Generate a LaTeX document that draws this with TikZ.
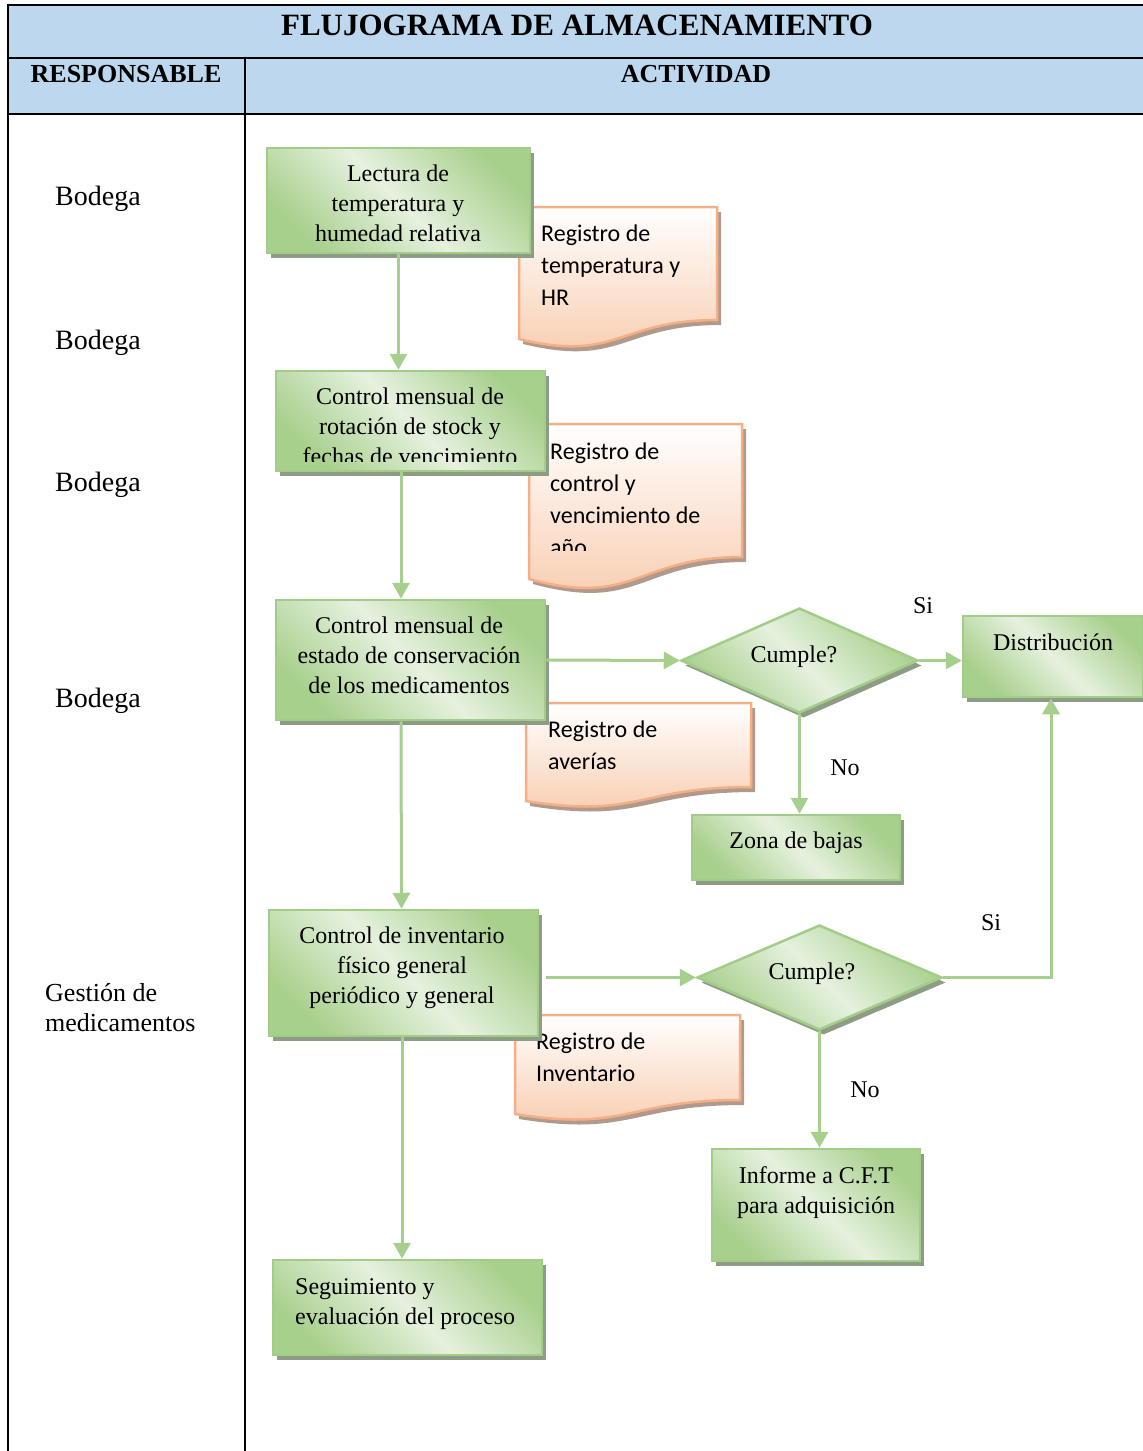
\documentclass[tikz,border=0pt]{standalone}
\usepackage{fontspec}
\setmainfont{Liberation Serif}
\newfontfamily\carl{Carlito}
\usetikzlibrary{shapes.geometric,arrows.meta,shadows}
\definecolor{hdr}{HTML}{BDD7EE}
\definecolor{gD}{HTML}{A8D08D}
\definecolor{gL}{HTML}{E6F1DF}
\definecolor{gB}{HTML}{A2CD88}
\definecolor{gS}{HTML}{8E9C86}
\definecolor{oB}{HTML}{F4B084}
\definecolor{oD}{HTML}{F8CBAD}
\definecolor{oS}{HTML}{B09A8E}
\definecolor{arrc}{HTML}{A6CE8C}
\begin{document}
\begin{tikzpicture}[x=1pt,y=-1pt,
  tbl/.style={line width=2pt,draw=black},
  proc/.style={draw=gB,line width=2.5pt,left color=gD,right color=gD,middle color=gL,shading angle=135,
    drop shadow={shadow xshift=4pt,shadow yshift=-5pt,fill=gS,opacity=1},inner sep=0pt},
  dec/.style={proc,shape=diamond,inner sep=0pt},
  docsh/.style={draw=oB,line width=2.5pt,top color=white,bottom color=oD,
    drop shadow={shadow xshift=4pt,shadow yshift=-5pt,fill=oS,opacity=1}},
  ptxt/.style={align=center,inner sep=0pt,font=\fontsize{24}{30}\selectfont},
  dtxt/.style={align=left,anchor=west,inner sep=0pt,font=\carl\fontsize{24}{32}\selectfont},
  rtxt/.style={anchor=west,inner sep=0pt,font=\fontsize{28}{30}\selectfont},
  lbl/.style={inner sep=0pt,font=\fontsize{24}{30}\selectfont},
  arr/.style={draw=arrc,line width=3pt,-{Triangle[width=17pt,length=16pt]}}
]
\useasboundingbox (0,0) rectangle (1143,1451);
% table
\fill[hdr] (8,5) rectangle (1143,114);
\draw[tbl] (8,1451) -- (8,5) -- (1143,5);
\draw[tbl] (8,58) -- (1143,58);
\draw[tbl] (8,114) -- (1143,114);
\draw[tbl] (245,58) -- (245,1451);
\node[inner sep=0pt,font=\bfseries\fontsize{31}{34}\selectfont] (title) at (577,25) {FLUJOGRAMA DE ALMACENAMIENTO};
\node[inner sep=0pt,font=\bfseries\fontsize{26}{30}\selectfont] (hresp) at (126,74) {RESPONSABLE};
\node[inner sep=0pt,font=\bfseries\fontsize{26}{30}\selectfont] (hact) at (696,74) {ACTIVIDAD};
% responsables
\node[rtxt] (r1) at (55,199) {Bodega};
\node[rtxt] (r2) at (55,343) {Bodega};
\node[rtxt] (r3) at (55,485) {Bodega};
\node[rtxt] (r4) at (55,701) {Bodega};
\node[rtxt,align=left,font=\fontsize{26}{30}\selectfont] (r5) at (45,1008) {Gestión de\\medicamentos};
% documents
\path[docsh] (519,207) -- (717,207) -- (717,320) .. controls (618,320) and (618,363) .. (519,339) -- cycle;
\node[dtxt] (doc1) at (541,265) {Registro de\\temperatura y\\HR};
\path[docsh] (529,424) -- (742,424) -- (742,557) .. controls (635.5,557) and (635.5,608) .. (529,579) -- cycle;
\begin{scope}
\clip (529,424) rectangle (742,550);
\node[dtxt] (doc2) at (550,499) {Registro de\\control y\\vencimiento de\\año};
\end{scope}
\path[docsh] (526,703) -- (751,703) -- (751,787) .. controls (638.5,787) and (638.5,819) .. (526,801) -- cycle;
\node[dtxt] (doc3) at (548,745) {Registro de\\averías};
\path[docsh] (515,1015) -- (740,1015) -- (740,1100) .. controls (627.5,1100) and (627.5,1132) .. (515,1114) -- cycle;
\node[dtxt] (doc4) at (536,1057) {Registro de\\Inventario};
% process boxes
\node[proc,minimum width=263pt,minimum height=105pt] (b1) at (398.5,200.5) {};
\node[ptxt] (t1) at (398,203) {Lectura de\\temperatura y\\humedad relativa};
\node[proc,minimum width=269pt,minimum height=100pt] (b2) at (410.5,421) {};
\begin{scope}
\clip (276,371) rectangle (545,461);
\node[ptxt] (t2) at (410,426) {Control mensual de\\rotación de stock y\\fechas de vencimiento};
\end{scope}
\node[proc,minimum width=269pt,minimum height=120pt] (b3) at (410.5,660) {};
\node[ptxt] (t3) at (409,655) {Control mensual de\\estado de conservación\\de los medicamentos};
\node[proc,minimum width=269pt,minimum height=126pt] (b4) at (403.5,973) {};
\node[ptxt] (t4) at (402,968) {Control de inventario\\físico general\\periódico y general};
\node[proc,minimum width=269pt,minimum height=95pt] (b5) at (407.5,1307.5) {};
\node[ptxt,align=left,anchor=west] (t5) at (295,1304) {Seguimiento y\\evaluación del proceso};
\node[proc,minimum width=180pt,minimum height=81pt] (dist) at (1053,656.5) {};
\node[ptxt] (tdist) at (1053,642) {Distribución};
\node[proc,minimum width=208pt,minimum height=65pt] (zona) at (796,847.5) {};
\node[ptxt] (tzona) at (796,843) {Zona de bajas};
\node[proc,minimum width=208pt,minimum height=112pt] (inf) at (816,1205) {};
\node[ptxt] (tinf) at (816,1193) {Informe a C.F.T\\para adquisición};
% decisions
\node[dec,minimum width=237pt,minimum height=105pt] (d1) at (799.5,660.5) {};
\node[ptxt] (td1) at (794,657) {Cumple?};
\node[dec,minimum width=245pt,minimum height=105pt] (d2) at (819.5,977.5) {};
\node[ptxt] (td2) at (812,974) {Cumple?};
% connectors
\draw[arr] (b1.south) -- (b1.south |- b2.north);
\draw[arr] ([xshift=-9.5pt]b2.south) -- ([xshift=-9.5pt]b3.north);
\draw[arr] ([xshift=-9.5pt]b3.south) -- ([xshift=-2pt]b4.north);
\draw[arr] ([xshift=-1.5pt]b4.south) -- ([xshift=-1.5pt]b4.south |- b5.north);
\draw[arr] (b3.east) -- (d1.west);
\draw[arr] (d1.east) -- (d1.east -| dist.west);
\draw[arr] (d1.south) -- (d1.south |- zona.north);
\draw[arr] ([xshift=7pt]b4.east |- d2.west) -- (d2.west);
\draw[arr] (d2.east) -| ([xshift=-2pt]dist.south);
\draw[arr] (d2.south) -- (d2.south |- inf.north);
% labels
\node[lbl] (si1) at (923,606) {Si};
\node[lbl] (no1) at (845,768) {No};
\node[lbl] (si2) at (991,923) {Si};
\node[lbl] (no2) at (865,1090) {No};
\end{tikzpicture}
\end{document}
